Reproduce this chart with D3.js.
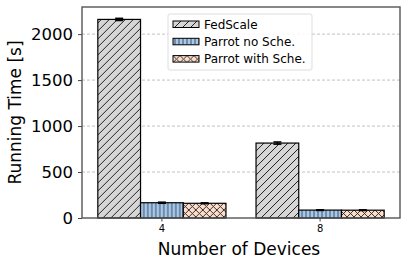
<!DOCTYPE html>
<html>
<head>
<meta charset="utf-8">
<script src="https://cdn.jsdelivr.net/npm/d3@7"></script>
<style>
  body { margin: 0; background: #fff; }
  text { font-family: "DejaVu Sans", sans-serif; }
</style>
</head>
<body>
<div id="chart"></div>
<script>
const devices = ["4", "8"];
const seriesNames = ["FedScale", "Parrot no Sche.", "Parrot with Sche."];
const fedscale = [2160, 815];
const parrotNoSche = [166, 86];
const parrotWithSche = [160, 85];
const errors = [[12, 12], [6, 4], [5, 4]];
const yTicks = [0, 500, 1000, 1500, 2000];

const values = [fedscale, parrotNoSche, parrotWithSche];
const fills = ["#d6d6d6", "#a9c9e6", "#fcdcca"];
const hatchIds = ["hatch-diag", "hatch-vert", "hatch-cross"];

const width = 407, height = 267;
const margin = { top: 7, right: 7, bottom: 49, left: 82 };
const innerW = width - margin.left - margin.right;
const innerH = height - margin.top - margin.bottom;

const svg = d3.select("#chart")
  .append("svg")
  .attr("width", width)
  .attr("height", height);

// hatch patterns
const defs = svg.append("defs");
function addPattern(id, fill, size, drawLines) {
  const p = defs.append("pattern")
    .attr("id", id)
    .attr("patternUnits", "userSpaceOnUse")
    .attr("width", size)
    .attr("height", size);
  p.append("rect").attr("width", size).attr("height", size).attr("fill", fill);
  drawLines(p);
}
addPattern(hatchIds[0], fills[0], 8, p => {
  p.append("path")
    .attr("d", "M-2,2 L2,-2 M0,8 L8,0 M6,10 L10,6")
    .attr("stroke", "#222").attr("stroke-width", 1);
});
addPattern(hatchIds[1], fills[1], 4, p => {
  p.append("path")
    .attr("d", "M2,0 L2,4")
    .attr("stroke", "#2a3f66").attr("stroke-width", 0.9);
});
addPattern(hatchIds[2], fills[2], 7, p => {
  p.append("path")
    .attr("d", "M0,0 L7,7 M7,0 L0,7")
    .attr("stroke", "#222").attr("stroke-width", 0.9);
});

const g = svg.append("g")
  .attr("transform", `translate(${margin.left},${margin.top})`);

const x0 = d3.scaleBand()
  .domain(devices)
  .range([0, innerW])
  .paddingInner(0.19)
  .paddingOuter(0.1);

const x1 = d3.scaleBand()
  .domain(seriesNames)
  .range([0, x0.bandwidth()]);

const y = d3.scaleLinear()
  .domain([0, 2295])
  .range([innerH, 0]);

// grid
g.append("g")
  .selectAll("line")
  .data(yTicks.slice(1))
  .enter()
  .append("line")
  .attr("x1", 0).attr("x2", innerW)
  .attr("y1", d => y(d)).attr("y2", d => y(d))
  .attr("stroke", "#bbbbbb")
  .attr("stroke-width", 0.9)
  .attr("stroke-dasharray", "3,2");

// bars
const groups = g.selectAll(".grp")
  .data(devices)
  .enter()
  .append("g")
  .attr("transform", d => `translate(${x0(d)},0)`);

seriesNames.forEach((s, si) => {
  groups.append("rect")
    .attr("x", x1(s))
    .attr("width", x1.bandwidth())
    .attr("y", (d, i) => y(values[si][i]))
    .attr("height", (d, i) => innerH - y(values[si][i]))
    .attr("fill", `url(#${hatchIds[si]})`)
    .attr("stroke", "#000")
    .attr("stroke-width", 1.2);
});

// error bars
seriesNames.forEach((s, si) => {
  groups.each(function(d, i) {
    const cx = x1(s) + x1.bandwidth() / 2;
    const v = values[si][i], e = errors[si][i];
    const eg = d3.select(this).append("g")
      .attr("stroke", "#000")
      .attr("stroke-width", 1.5);
    eg.append("line")
      .attr("x1", cx).attr("x2", cx)
      .attr("y1", y(v - e)).attr("y2", y(v + e));
    eg.append("line")
      .attr("x1", cx - 4).attr("x2", cx + 4)
      .attr("y1", y(v + e)).attr("y2", y(v + e));
    eg.append("line")
      .attr("x1", cx - 4).attr("x2", cx + 4)
      .attr("y1", y(v - e)).attr("y2", y(v - e));
  });
});

// axes
const xAxis = g.append("g")
  .attr("transform", `translate(0,${innerH})`)
  .call(d3.axisBottom(x0).tickSize(3.5).tickPadding(3));
xAxis.selectAll("text").style("font-size", "10px").attr("fill", "#000");

const yAxis = g.append("g")
  .call(d3.axisLeft(y).tickValues(yTicks).tickFormat(d3.format("d")).tickSize(4).tickPadding(5));
yAxis.selectAll("text").style("font-size", "16.5px").attr("fill", "#000");

[xAxis, yAxis].forEach(a => {
  a.select(".domain").remove();
  a.selectAll("line").attr("stroke", "#444");
});

// frame
g.append("rect")
  .attr("width", innerW)
  .attr("height", innerH)
  .attr("fill", "none")
  .attr("stroke", "#555")
  .attr("stroke-width", 1.4);

// labels
svg.append("text")
  .attr("x", margin.left + innerW / 2 - 2)
  .attr("y", 255)
  .attr("text-anchor", "middle")
  .style("font-size", "17px")
  .text("Number of Devices");

svg.append("text")
  .attr("transform", `translate(21,${margin.top + innerH / 2}) rotate(-90)`)
  .attr("text-anchor", "middle")
  .style("font-size", "17px")
  .text("Running Time [s]");

// legend
const legend = g.append("g").attr("transform", "translate(86,7)");
legend.append("rect")
  .attr("width", 144)
  .attr("height", 56)
  .attr("rx", 2)
  .attr("fill", "#fff")
  .attr("fill-opacity", 0.85)
  .attr("stroke", "#dddddd");

seriesNames.forEach((s, si) => {
  const row = legend.append("g").attr("transform", `translate(5,${7 + si * 17.3})`);
  row.append("rect")
    .attr("width", 26)
    .attr("height", 6.5)
    .attr("fill", `url(#${hatchIds[si]})`)
    .attr("stroke", "#000")
    .attr("stroke-width", 1);
  row.append("text")
    .attr("x", 31)
    .attr("y", 7.5)
    .style("font-size", "12px")
    .text(s);
});
</script>
</body>
</html>
